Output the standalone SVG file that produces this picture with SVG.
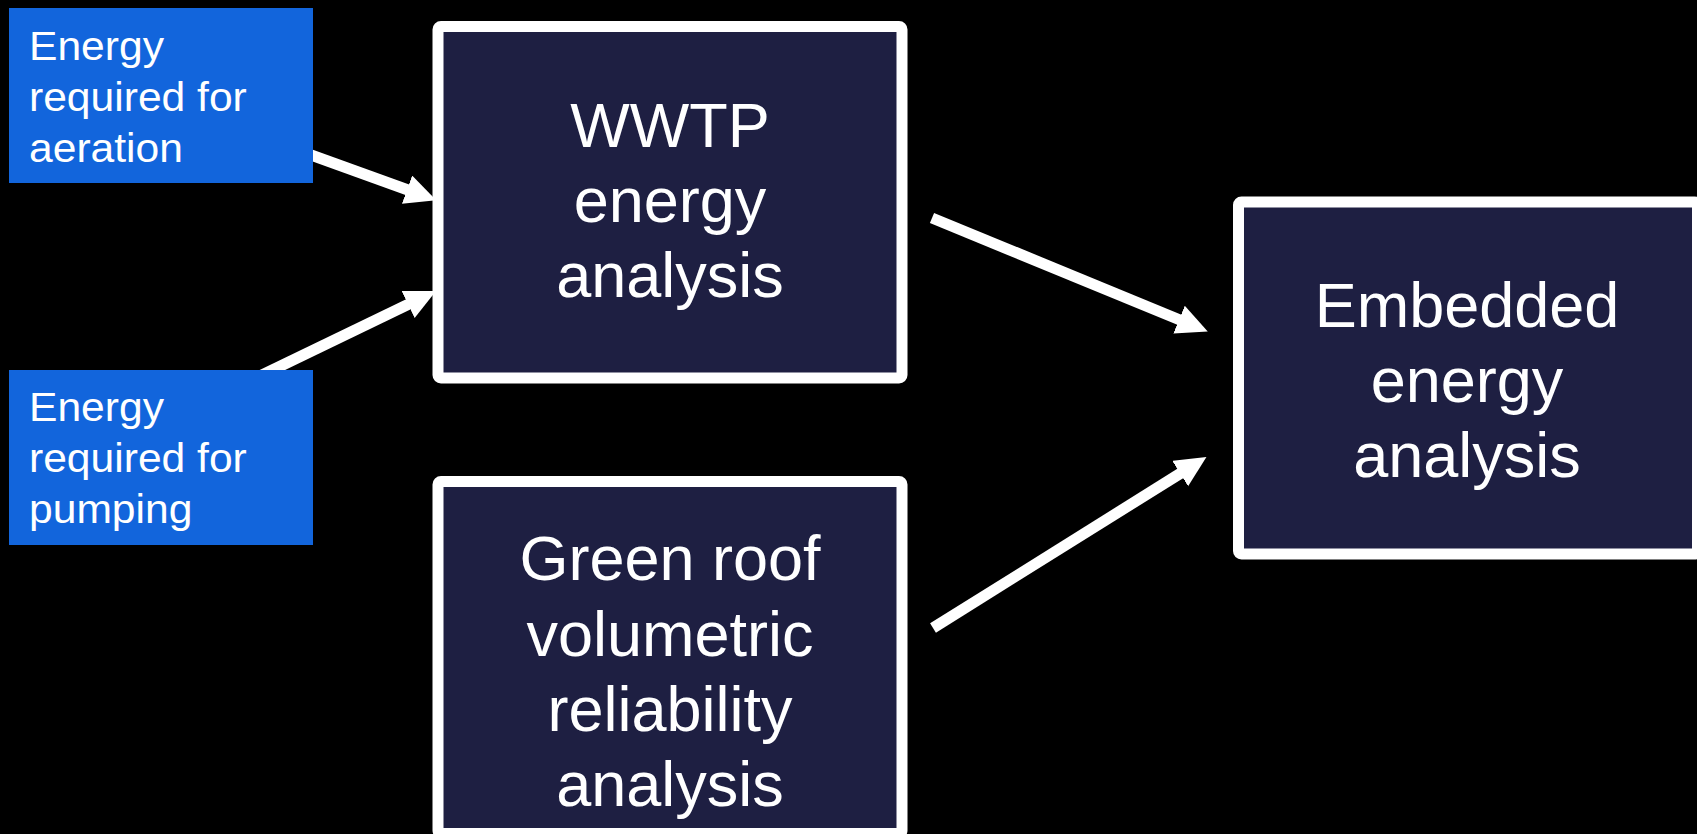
<svg xmlns="http://www.w3.org/2000/svg" width="1697" height="834" viewBox="0 0 1697 834">
<defs>
<style>
.bg{fill:#000000}
.inp{fill:#1265DC}
.main{fill:#1E1F42;stroke:#FFFFFF;stroke-width:11}
.t1{font-family:"Liberation Sans",Arial,sans-serif;font-size:40px;fill:#FFFFFF}
.t2{font-family:"Liberation Sans",Arial,sans-serif;font-size:63px;fill:#FFFFFF;text-anchor:middle}
.conn{stroke:#FFFFFF;stroke-width:11;fill:none;marker-end:url(#ah)}
</style>
<marker id="ah" markerUnits="userSpaceOnUse" markerWidth="34" markerHeight="34" refX="1" refY="15" orient="auto" viewBox="0 0 34 34">
<path d="M0,0 L31,15 L0,30 Z" fill="#FFFFFF"/>
</marker>
</defs>
<rect class="bg" x="0" y="0" width="1697" height="834"/>
<g id="connectors">
<line class="conn" x1="300" y1="151" x2="408" y2="190"/>
<line class="conn" x1="262" y1="375" x2="409" y2="304"/>
<line class="conn" x1="932" y1="218" x2="1180" y2="320"/>
<line class="conn" x1="933" y1="628" x2="1181" y2="473"/>
</g>
<g id="aeration">
<rect class="inp" x="9" y="8" width="304" height="175"/>
<g transform="translate(29,0) scale(1.065,1)">
<text class="t1" x="0" y="60">Energy</text>
<text class="t1" x="0" y="111">required for</text>
<text class="t1" x="0" y="162">aeration</text>
</g>
</g>
<g id="pumping">
<rect class="inp" x="9" y="370" width="304" height="175"/>
<g transform="translate(29,0) scale(1.065,1)">
<text class="t1" x="0" y="421">Energy</text>
<text class="t1" x="0" y="472">required for</text>
<text class="t1" x="0" y="523">pumping</text>
</g>
</g>
<g id="wwtp">
<rect class="main" x="438" y="26.5" width="464" height="351.5" rx="3"/>
<text class="t2" x="670" y="147">WWTP</text>
<text class="t2" x="670" y="222">energy</text>
<text class="t2" x="670" y="297">analysis</text>
</g>
<g id="greenroof">
<rect class="main" x="438" y="481.5" width="464" height="352" rx="3"/>
<text class="t2" x="670" y="580">Green roof</text>
<text class="t2" x="670" y="656">volumetric</text>
<text class="t2" x="670" y="731">reliability</text>
<text class="t2" x="670" y="806">analysis</text>
</g>
<g id="embedded">
<rect class="main" x="1238.5" y="202" width="459" height="352" rx="3"/>
<text class="t2" x="1467" y="327">Embedded</text>
<text class="t2" x="1467" y="402">energy</text>
<text class="t2" x="1467" y="477">analysis</text>
</g>
</svg>
